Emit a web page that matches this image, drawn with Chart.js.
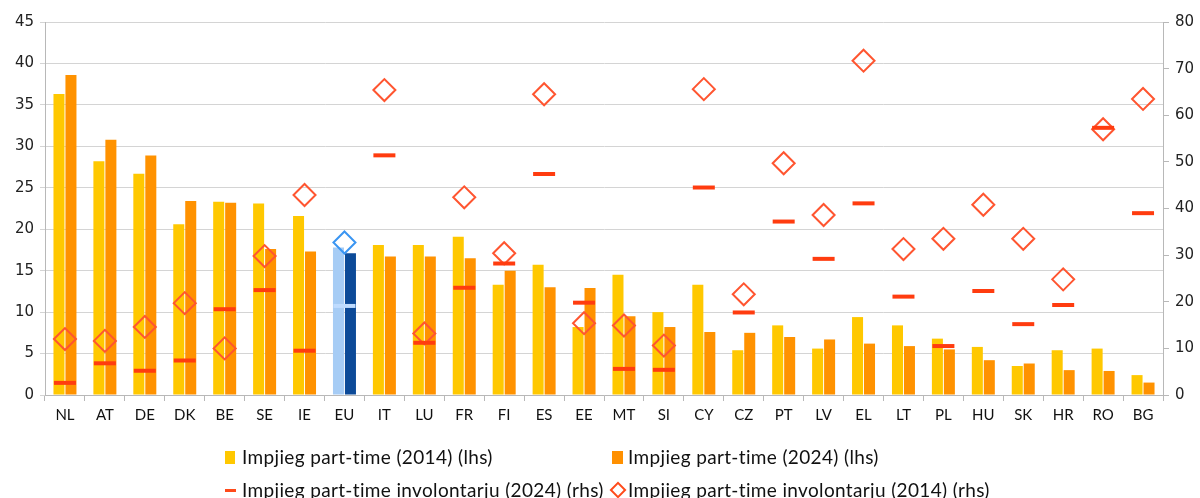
<!DOCTYPE html>
<html>
<head>
<meta charset="utf-8">
<script src="https://cdn.jsdelivr.net/npm/chart.js@4.4.1/dist/chart.umd.min.js"></script>
<style>
  body { margin: 0; background: #fff; }
  #wrap { position: relative; width: 1200px; height: 498px; overflow: hidden; }
  #legend { position: absolute; left: 0; top: 0; font-family: Lato, "Open Sans", sans-serif; font-size: 19px; letter-spacing: 0.35px; color: #111; }
  .li { position: absolute; white-space: nowrap; }
  .mk { position: absolute; }
</style>
</head>
<body>
<div id="wrap">
  <canvas id="myChart" width="1200" height="498"></canvas>
  <div id="legend">
    <div class="mk" style="left:225px; top:451px; width:10px; height:13px; background:#FFC800"></div>
    <div class="li" style="left:242px; top:445px">Impjieg part-time (2014) (lhs)</div>
    <div class="mk" style="left:612px; top:451px; width:11px; height:13px; background:#FF9000"></div>
    <div class="li" style="left:628px; top:445px">Impjieg part-time (2024) (lhs)</div>
    <div class="mk" style="left:225px; top:489px; width:11px; height:3px; background:#FF4A1A"></div>
    <div class="li" style="left:242px; top:478px">Impjieg part-time involontarju (2024) (rhs)</div>
    <div class="mk" style="left:612px; top:484px; width:8px; height:8px; border:2px solid #FF4A1A; transform:rotate(45deg)"></div>
    <div class="li" style="left:628px; top:478px">Impjieg part-time involontarju (2014) (rhs)</div>
  </div>
</div>
<script>
var countries = ["NL","AT","DE","DK","BE","SE","IE","EU","IT","LU","FR","FI","ES","EE","MT","SI","CY","CZ","PT","LV","EL","LT","PL","HU","SK","HR","RO","BG"];
// lhs, % of employment
var pt2014 = [36.3,28.2,26.7,20.6,23.3,23.1,21.6,17.8,18.1,18.1,19.1,13.3,15.7,8.2,14.5,10.0,13.3,5.4,8.4,5.6,9.4,8.4,6.8,5.8,3.5,5.4,5.6,2.4];
var pt2024 = [38.6,30.8,28.9,23.4,23.2,17.6,17.3,17.1,16.7,16.7,16.5,15.0,13.0,12.9,9.5,8.2,7.6,7.5,7.0,6.7,6.2,5.9,5.5,4.2,3.8,3.0,2.9,1.5];
// rhs, % of part-time
var inv2024 = [2.6,6.8,5.2,7.4,18.4,22.5,9.5,19.1,51.4,11.2,23.0,28.2,47.4,19.8,5.6,5.4,44.5,17.7,37.2,29.2,41.1,21.1,10.5,22.3,15.2,19.3,57.3,39.0];
var inv2014 = [12.0,11.6,14.6,19.7,10.0,29.8,42.9,32.7,65.4,13.2,42.4,30.4,64.5,15.4,14.9,10.6,65.6,21.6,49.7,38.6,71.7,31.3,33.5,40.8,33.5,24.8,57.0,63.5];

var euIdx = countries.indexOf("EU");
function perBar(normal, eu) {
  return countries.map(function (c, i) { return i === euIdx ? eu : normal; });
}

var ctx = document.getElementById('myChart');
var myChart = new Chart(ctx, {
  type: 'bar',
  data: {
    labels: countries,
    datasets: [{
      type: 'line',
      label: 'Impjieg part-time involontarju (2024) (rhs)',
      data: inv2024,
      yAxisID: 'y2',
      showLine: false,
      pointStyle: 'line',
      pointRadius: 11,
      pointBorderWidth: 4,
      pointBorderColor: perBar('#FF3C0F', '#BFDCFF'),
      order: 0
    }, {
      type: 'line',
      label: 'Impjieg part-time involontarju (2014) (rhs)',
      data: inv2014,
      yAxisID: 'y2',
      showLine: false,
      pointStyle: 'rectRot',
      pointRadius: 11,
      pointBorderWidth: 2,
      pointBackgroundColor: 'rgba(0,0,0,0)',
      pointBorderColor: perBar('#FF5530', '#3A95F2'),
      order: 0
    }, {
      label: 'Impjieg part-time (2014) (lhs)',
      data: pt2014,
      yAxisID: 'y',
      backgroundColor: perBar('#FFC800', '#A6CCF5'),
      categoryPercentage: 0.6,
      barPercentage: 0.92,
      order: 1
    }, {
      label: 'Impjieg part-time (2024) (lhs)',
      data: pt2024,
      yAxisID: 'y',
      backgroundColor: perBar('#FF9200', '#0C4A98'),
      categoryPercentage: 0.6,
      barPercentage: 0.92,
      order: 1
    }]
  },
  options: {
    responsive: false,
    animation: false,
    layout: { padding: { top: 22, bottom: 72, left: 0, right: 0 } },
    plugins: { legend: { display: false }, tooltip: { enabled: false } },
    scales: {
      x: {
        grid: { drawOnChartArea: false, tickLength: 6, color: '#b8b8b8', offset: true },
        border: { color: '#b8b8b8' },
        ticks: { color: '#111', font: { family: 'Lato', size: 15 }, padding: 5, maxRotation: 0, autoSkip: false },
        afterFit: function (s) { s.height = 31; }
      },
      y: {
        position: 'left',
        min: 0, max: 45,
        ticks: { stepSize: 5, color: '#222', font: { family: 'DejaVu Sans', size: 15 }, padding: 6 },
        grid: { color: '#d4d4d4', tickLength: 5 },
        border: { color: '#b8b8b8' },
        afterFit: function (s) { s.width = 45; }
      },
      y2: {
        position: 'right',
        min: 0, max: 80,
        ticks: { stepSize: 10, color: '#222', font: { family: 'DejaVu Sans', size: 15 }, padding: 6 },
        grid: { drawOnChartArea: false, tickLength: 6, color: '#b8b8b8' },
        border: { color: '#b8b8b8' },
        afterFit: function (s) { s.width = 37; }
      }
    }
  }
});
</script>
</body>
</html>
